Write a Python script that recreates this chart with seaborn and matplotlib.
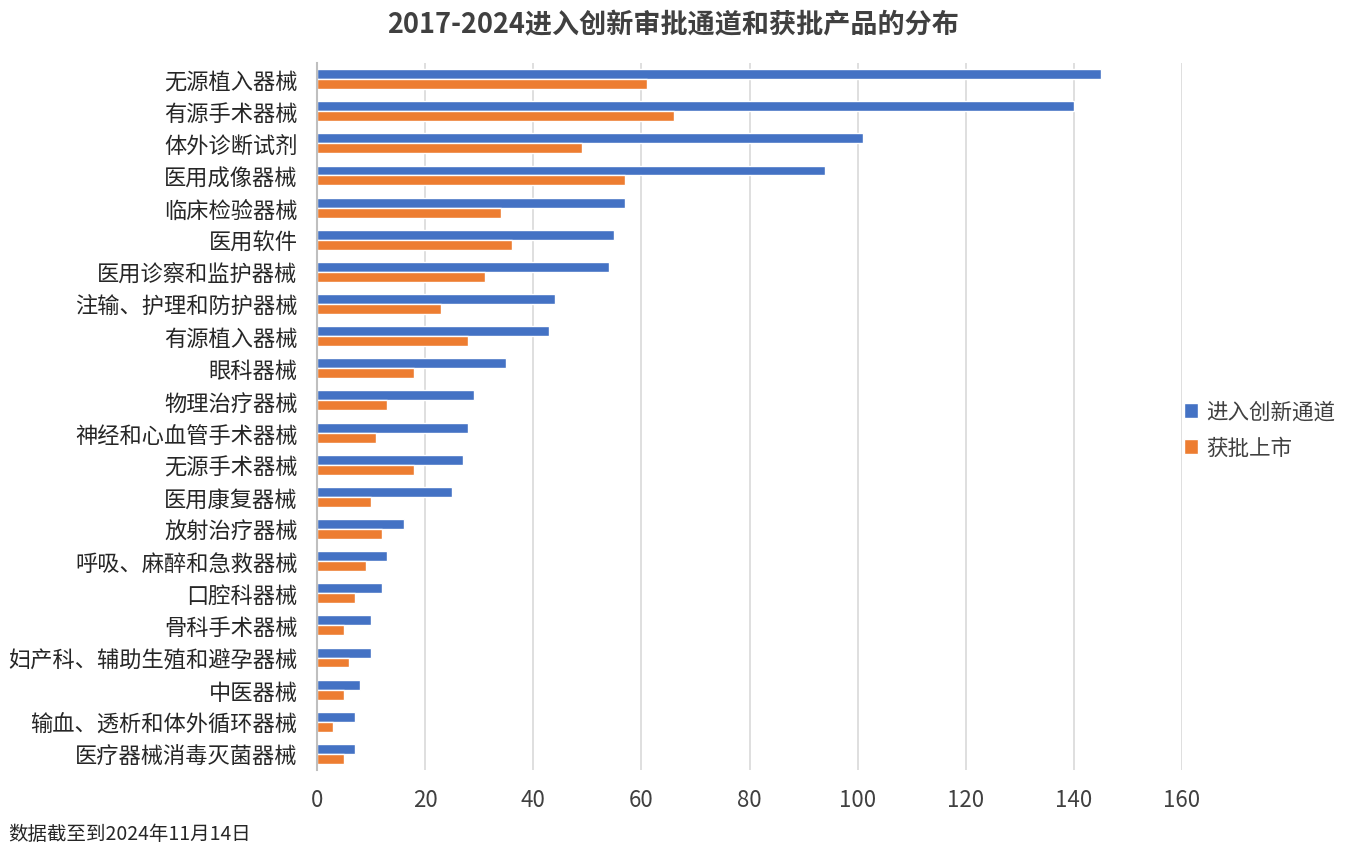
import matplotlib
matplotlib.use("Agg")
import matplotlib.pyplot as plt
import seaborn as sns
import pandas as pd

# categories top to bottom
categories = ["无源植入器械", "有源手术器械", "体外诊断试剂", "医用成像器械", "临床检验器械",
              "医用软件", "医用诊察和监护器械", "注输、护理和防护器械", "有源植入器械", "眼科器械",
              "物理治疗器械", "神经和心血管手术器械", "无源手术器械", "医用康复器械", "放射治疗器械",
              "呼吸、麻醉和急救器械", "口腔科器械", "骨科手术器械", "妇产科、辅助生殖和避孕器械",
              "中医器械", "输血、透析和体外循环器械", "医疗器械消毒灭菌器械"]
entered = [145, 140, 101, 94, 57, 55, 54, 44, 43, 35, 29, 28, 27, 25, 16, 13, 12, 10, 10, 8, 7, 7]
approved = [61, 66, 49, 57, 34, 36, 31, 23, 28, 18, 13, 11, 18, 10, 12, 9, 7, 5, 6, 5, 3, 5]
series_names = ["进入创新通道", "获批上市"]
colors = ["#4472C4", "#ED7D31"]
xticks = [0, 20, 40, 60, 80, 100, 120, 140, 160]

df = pd.DataFrame({
    "类别": categories * 2,
    "数量": entered + approved,
    "系列": [series_names[0]] * len(categories) + [series_names[1]] * len(categories),
})

sns.set_style("white")
plt.rcParams["font.family"] = ["Noto Sans CJK SC", "DejaVu Sans"]

fig = plt.figure(figsize=(13.47, 8.53), dpi=100)
ax = fig.add_axes([317 / 1347, 1 - 771 / 853, (1182 - 317) / 1347, (771 - 64) / 853])

sns.barplot(data=df, x="数量", y="类别", hue="系列", hue_order=series_names,
            order=categories, palette=colors, orient="h", width=0.62,
            saturation=1, ax=ax)

ax.set_xlim(0, 160)
ax.set_ylim(len(categories) - 0.5, -0.5)
ax.set_xticks(xticks)
ax.set_xticklabels([str(t) for t in xticks], fontsize=16, color="#404040")
ax.tick_params(axis="y", labelsize=16, labelcolor="#262626", length=0, pad=14)
ax.tick_params(axis="x", length=0, pad=13)
ax.set_xlabel("")
ax.set_ylabel("")
ax.grid(axis="x", color="#D9D9D9", linewidth=1.2)
ax.set_axisbelow(True)
for s in ["top", "right", "bottom"]:
    ax.spines[s].set_visible(False)
ax.spines["left"].set_color("#BFBFBF")
ax.spines["left"].set_linewidth(1.5)

handles, labels = ax.get_legend_handles_labels()
ax.get_legend().remove()
fig.legend(handles, labels, loc="center left", bbox_to_anchor=(1184 / 1347, 1 - 431 / 853),
           frameon=False, fontsize=15.5, handlelength=0.65, handleheight=0.65,
           handletextpad=0.4, labelspacing=0.65, labelcolor="#404040",
           borderpad=0, borderaxespad=0)

fig.text(0.5, 1 - 25 / 853, "2017-2024进入创新审批通道和获批产品的分布", ha="center", va="center",
         fontsize=19.5, fontweight="bold", color="#404040")
fig.text(8 / 1347, 1 - 835 / 853, "数据截至到2024年11月14日", ha="left", va="center",
         fontsize=14, color="#262626")

fig.savefig("out.png", dpi=100)
